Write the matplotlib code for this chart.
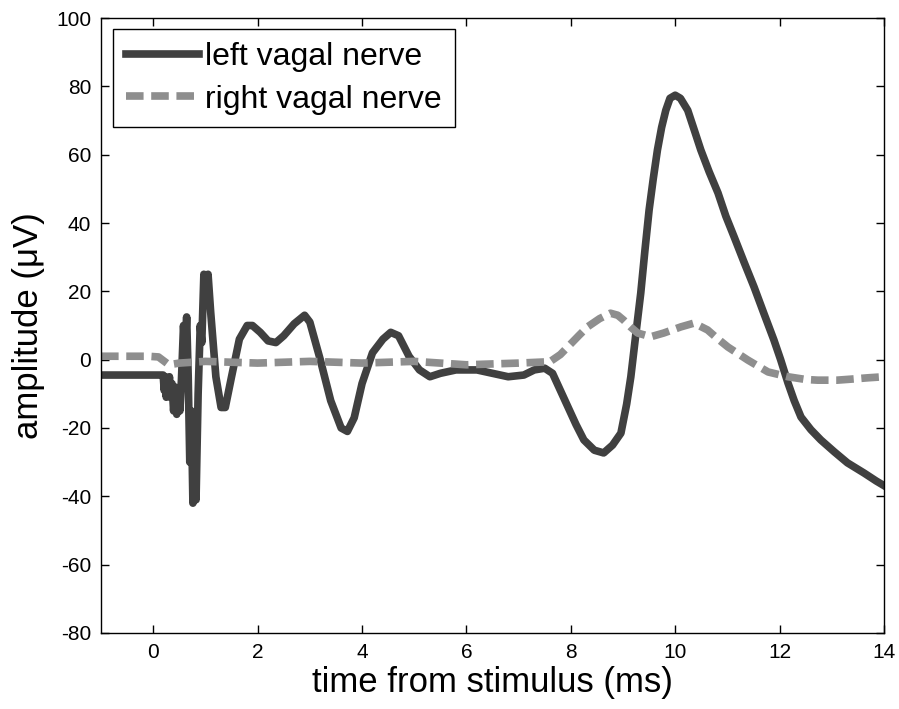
import matplotlib
matplotlib.use("Agg")
import matplotlib.pyplot as plt

left_t = [-1.0, 0.15, 0.19, 0.21, 0.23, 0.25, 0.27, 0.29, 0.31, 0.33, 0.36, 0.39, 0.42,
          0.45, 0.48, 0.51, 0.54, 0.58, 0.61, 0.64, 0.67, 0.70, 0.73, 0.76, 0.79, 0.82,
          0.86, 0.9, 0.93, 0.97, 1.02, 1.05, 1.1, 1.2, 1.3, 1.38, 1.5, 1.65, 1.8, 1.9,
          2.05, 2.2, 2.35, 2.5, 2.7, 2.9, 3.0, 3.2, 3.4, 3.6, 3.72, 3.85, 4.0, 4.2, 4.4,
          4.55, 4.7, 4.9, 5.1, 5.3, 5.5, 5.8, 6.2, 6.5, 6.8, 7.1, 7.3, 7.5, 7.65, 7.8,
          7.95, 8.1, 8.25, 8.45, 8.63, 8.8, 8.96, 9.07, 9.15, 9.25, 9.34, 9.42, 9.5,
          9.58, 9.66, 9.74, 9.82, 9.9, 10.0, 10.1, 10.24, 10.37, 10.49, 10.65, 10.82,
          10.97, 11.13, 11.32, 11.51, 11.7, 11.89, 12.02, 12.16, 12.28, 12.41, 12.6,
          12.79, 13.05, 13.3, 13.62, 13.85, 14.07]
left_amp = [-4.5, -4.5, -4.5, -9, -5, -11, -6, -10, -5, -11, -7, -15, -8,
            -16, -9, -15, -6, 10, 2, 12.5, -5, -30, -15, -42, -30, -41,
            -10, 10, 5, 25, 20, 25, 14, -5, -14, -14, -5, 6, 10, 10,
            8, 5.5, 5, 7, 10.5, 13, 11, 0, -12, -20, -21, -17, -7, 2, 6,
            8, 7, 1, -3, -5, -4, -3, -3, -4, -5, -4.5, -3, -2.5, -4, -9,
            -14, -19, -23.5, -26.5, -27.3, -25, -21.5, -13, -5, 8, 19.5, 32, 43.8,
            53, 61.4, 68, 73, 76.5, 77.4, 76.5, 73, 67, 61.4, 55, 48.8,
            42, 35.9, 28.5, 21.3, 13.5, 5.8, 0, -6.8, -12, -16.8, -20.5,
            -23.5, -27, -30.2, -33.2, -35.5, -37.5]

right_t = [-1.0, -0.1, 0.1, 0.3, 0.5, 1.0, 2.0, 3.0, 4.0, 5.0, 6.0, 7.0, 7.6, 7.8,
           7.94, 8.15, 8.32, 8.55, 8.76, 8.9, 9.01, 9.15, 9.28, 9.53, 9.78, 10.11,
           10.36, 10.62, 10.8, 11.01, 11.2, 11.39, 11.6, 11.78, 12.16, 12.5, 12.73,
           13.1, 13.37, 13.7, 14.0]
right_amp = [1, 1, 0.8, -1.5, -1, -0.5, -1, -0.5, -1, -0.5, -1.5, -1, -0.6, 1.5,
             3.7, 7, 9.6, 12, 13.6, 13, 11.6, 9.5, 7.8, 6.7, 7.8, 9.6,
             10.7, 8.7, 6.3, 3.7, 1.8, -0.1, -2, -3.6, -5, -5.8, -6,
             -6, -5.7, -5.3, -5]

x_ticks = [0, 2, 4, 6, 8, 10, 12, 14]
y_ticks = [-80, -60, -40, -20, 0, 20, 40, 60, 80, 100]

plt.rcParams['font.family'] = ['Liberation Sans', 'DejaVu Sans']
plt.rcParams['axes.unicode_minus'] = False

fig = plt.figure(figsize=(8.99, 7.09), dpi=100)
ax = fig.add_axes([0.1124, 0.1072, 0.8709, 0.8674])

ax.plot(left_t, left_amp, color='#404040', lw=5.5, solid_joinstyle='round',
        label='left vagal nerve')
ax.plot(right_t, right_amp, color='#8e8e8e', lw=5.5, dashes=(2.3, 1.0),
        dash_capstyle='butt', label='right vagal nerve')

ax.set_xlim(-1, 14)
ax.set_ylim(-80, 100)
ax.set_xticks(x_ticks)
ax.set_yticks(y_ticks)
ax.tick_params(direction='in', length=5.5, width=1, labelsize=15, pad=7,
               top=True, right=True)
for s in ax.spines.values():
    s.set_linewidth(1)

ax.set_xlabel('time from stimulus (ms)', fontsize=25, labelpad=3)
ax.set_ylabel('amplitude (\u03bcV)', fontsize=25, labelpad=8)

leg = ax.legend(loc='upper left', bbox_to_anchor=(0.015, 0.982), borderaxespad=0,
                fontsize=23, handlelength=2.3, handletextpad=0.2, labelspacing=0.4,
                borderpad=0.4, fancybox=False, framealpha=1)
leg.get_frame().set_edgecolor('black')
leg.get_frame().set_linewidth(1)

fig.savefig('out.png', dpi=100)
